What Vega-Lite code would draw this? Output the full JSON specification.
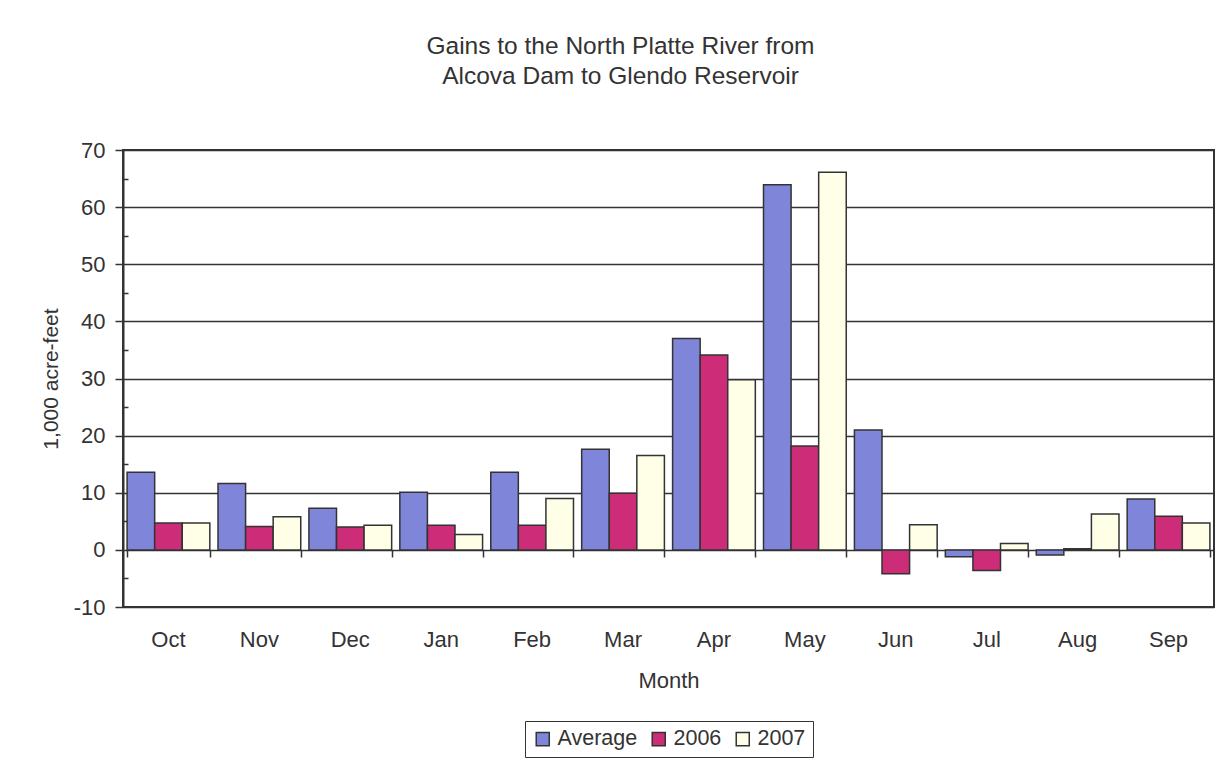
{
  "$schema": "https://vega.github.io/schema/vega-lite/v6.json",
  "width": 1091,
  "height": 457,
  "autosize": {"type": "none"},
  "padding": {"left": 123, "top": 150, "right": 17, "bottom": 164},
  "background": "white",
  "config": {
    "font": "Liberation Sans",
    "view": {"stroke": "#333", "strokeWidth": 2},
    "axis": {"labelColor": "#333", "titleColor": "#333", "labelFont": "Liberation Sans", "titleFont": "Liberation Sans"}
  },
  "title": {
    "text": ["Gains to the North Platte River from", "Alcova Dam to Glendo Reservoir"],
    "fontSize": 24.5,
    "fontWeight": "normal",
    "color": "#333",
    "lineHeight": 30,
    "anchor": "middle",
    "dx": -48,
    "offset": 50
  },
  "data": {
    "values": [
      {"Month": "Oct", "Series": "Average", "Value": 13.6},
      {"Month": "Oct", "Series": "2006", "Value": 4.7},
      {"Month": "Oct", "Series": "2007", "Value": 4.7},
      {"Month": "Nov", "Series": "Average", "Value": 11.6},
      {"Month": "Nov", "Series": "2006", "Value": 4.1},
      {"Month": "Nov", "Series": "2007", "Value": 5.8},
      {"Month": "Dec", "Series": "Average", "Value": 7.3},
      {"Month": "Dec", "Series": "2006", "Value": 4.0},
      {"Month": "Dec", "Series": "2007", "Value": 4.3},
      {"Month": "Jan", "Series": "Average", "Value": 10.1},
      {"Month": "Jan", "Series": "2006", "Value": 4.3},
      {"Month": "Jan", "Series": "2007", "Value": 2.7},
      {"Month": "Feb", "Series": "Average", "Value": 13.6},
      {"Month": "Feb", "Series": "2006", "Value": 4.3},
      {"Month": "Feb", "Series": "2007", "Value": 9.0},
      {"Month": "Mar", "Series": "Average", "Value": 17.6},
      {"Month": "Mar", "Series": "2006", "Value": 9.9},
      {"Month": "Mar", "Series": "2007", "Value": 16.5},
      {"Month": "Apr", "Series": "Average", "Value": 37.0},
      {"Month": "Apr", "Series": "2006", "Value": 34.1},
      {"Month": "Apr", "Series": "2007", "Value": 29.8},
      {"Month": "May", "Series": "Average", "Value": 63.9},
      {"Month": "May", "Series": "2006", "Value": 18.2},
      {"Month": "May", "Series": "2007", "Value": 66.1},
      {"Month": "Jun", "Series": "Average", "Value": 21.0},
      {"Month": "Jun", "Series": "2006", "Value": -4.2},
      {"Month": "Jun", "Series": "2007", "Value": 4.4},
      {"Month": "Jul", "Series": "Average", "Value": -1.2},
      {"Month": "Jul", "Series": "2006", "Value": -3.6},
      {"Month": "Jul", "Series": "2007", "Value": 1.1},
      {"Month": "Aug", "Series": "Average", "Value": -0.9},
      {"Month": "Aug", "Series": "2006", "Value": 0.2},
      {"Month": "Aug", "Series": "2007", "Value": 6.3},
      {"Month": "Sep", "Series": "Average", "Value": 8.9},
      {"Month": "Sep", "Series": "2006", "Value": 5.9},
      {"Month": "Sep", "Series": "2007", "Value": 4.7}
    ]
  },
  "resolve": {"axis": {"x": "independent"}},
  "layer": [
    {
      "mark": {"type": "bar", "stroke": "#333", "strokeWidth": 1.5},
      "encoding": {
        "x": {
          "field": "Month",
          "type": "nominal",
          "sort": ["Oct", "Nov", "Dec", "Jan", "Feb", "Mar", "Apr", "May", "Jun", "Jul", "Aug", "Sep"],
          "scale": {"paddingInner": 0.09, "paddingOuter": 0.045},
          "axis": {
            "orient": "bottom",
            "offset": -57,
            "labels": false,
            "domain": false,
            "title": null,
            "tickBand": "extent",
            "tickSize": 7,
            "tickColor": "#333",
            "tickWidth": 1.5
          }
        },
        "xOffset": {
          "field": "Series",
          "type": "nominal",
          "sort": ["Average", "2006", "2007"],
          "scale": {"paddingInner": 0, "paddingOuter": 0}
        },
        "y": {
          "field": "Value",
          "type": "quantitative",
          "scale": {"domain": [-10, 70], "nice": false, "zero": false},
          "axis": {
            "title": "1,000 acre-feet",
            "titleFontSize": 21,
            "titleFontWeight": "normal",
            "titlePadding": 12,
            "values": [-10, -5, 0, 5, 10, 15, 20, 25, 30, 35, 40, 45, 50, 55, 60, 65, 70],
            "labelExpr": "datum.value % 10 === 0 ? '' + datum.value : ''",
            "labelFontSize": 22,
            "labelPadding": 10,
            "domainColor": "#333",
            "domainWidth": 2,
            "tickColor": "#333",
            "tickWidth": 1.5,
            "tickSize": {"condition": {"test": "datum.value % 10 !== 0", "value": -5}, "value": 8},
            "grid": true,
            "gridColor": "#333",
            "gridWidth": 1.6,
            "gridOpacity": {"condition": {"test": "datum.value % 10 !== 0", "value": 0}, "value": 1}
          }
        },
        "color": {
          "field": "Series",
          "type": "nominal",
          "scale": {"domain": ["Average", "2006", "2007"], "range": ["#7F86DA", "#CC2C78", "#FFFFE8"]},
          "legend": {
            "orient": "none",
            "legendX": 402,
            "legendY": 571,
            "direction": "horizontal",
            "title": null,
            "strokeColor": "#333",
            "padding": 7,
            "symbolType": "square",
            "symbolSize": 170,
            "symbolStrokeColor": "#333",
            "symbolStrokeWidth": 1.5,
            "symbolOpacity": 1,
            "labelFontSize": 21.5,
            "labelColor": "#333",
            "labelOffset": 4,
            "columnPadding": 10
          }
        }
      }
    },
    {
      "mark": {"type": "text", "text": ""},
      "encoding": {
        "x": {
          "field": "Month",
          "type": "nominal",
          "sort": ["Oct", "Nov", "Dec", "Jan", "Feb", "Mar", "Apr", "May", "Jun", "Jul", "Aug", "Sep"],
          "scale": {"paddingInner": 0.09, "paddingOuter": 0.045},
          "axis": {
            "orient": "bottom",
            "title": "Month",
            "titleFontSize": 22,
            "titleFontWeight": "normal",
            "titlePadding": 20,
            "labelAngle": 0,
            "labelFontSize": 22,
            "labelPadding": 22,
            "ticks": false,
            "domain": false
          }
        }
      }
    }
  ]
}
